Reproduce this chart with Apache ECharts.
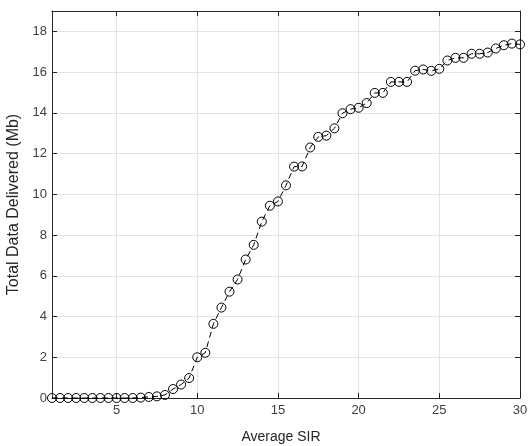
<!DOCTYPE html>
<html>
<head>
<meta charset="utf-8">
<script src="https://cdn.jsdelivr.net/npm/echarts@6/dist/echarts.min.js"></script>
<style>html,body{margin:0;padding:0;background:#fff}#c{width:530px;height:446px}</style>
</head>
<body>
<div id="c"></div>
<script>
const sir = [1,1.5,2,2.5,3,3.5,4,4.5,5,5.5,6,6.5,7,7.5,8,8.5,9,9.5,10,10.5,11,11.5,12,12.5,13,13.5,14,14.5,15,15.5,16,16.5,17,17.5,18,18.5,19,19.5,20,20.5,21,21.5,22,22.5,23,23.5,24,24.5,25,25.5,26,26.5,27,27.5,28,28.5,29,29.5,30];
const delivered = [0,0,0,0,0,0,0,0,0,0,0,0.02,0.05,0.08,0.15,0.44,0.66,0.98,2.0,2.22,3.64,4.44,5.22,5.82,6.8,7.52,8.66,9.44,9.65,10.44,11.36,11.37,12.3,12.82,12.88,13.24,13.98,14.18,14.25,14.48,14.98,14.98,15.52,15.52,15.52,16.07,16.13,16.06,16.16,16.57,16.7,16.7,16.9,16.9,16.96,17.16,17.32,17.4,17.36];
const xTicks = [5,10,15,20,25,30];
const yTicks = [0,2,4,6,8,10,12,14,16,18];
const xTitle = 'Average SIR';
const yTitle = 'Total Data Delivered (Mb)';

const axisColor = '#262626';
const labelColor = '#404040';
const gridColor = '#e3e3e3';
const font = 'Liberation Sans, Arial, Helvetica, sans-serif';

const chart = echarts.init(document.getElementById('c'), null, {renderer: 'canvas'});
const baseX = {
  type: 'value', min: 1, max: 30,
  axisLine: {show: true, onZero: false, lineStyle: {color: axisColor, width: 1}},
  axisTick: {show: true, inside: true, length: 5, customValues: xTicks, lineStyle: {color: axisColor}},
  axisLabel: {show: true, customValues: xTicks, color: labelColor, fontSize: 13, fontFamily: font, margin: 6},
  splitLine: {show: true, lineStyle: {color: gridColor, width: 1}}
};
const baseY = {
  type: 'value', min: 0, max: 19,
  axisLine: {show: true, onZero: false, lineStyle: {color: axisColor, width: 1}},
  axisTick: {show: true, inside: true, length: 5, customValues: yTicks, lineStyle: {color: axisColor}},
  axisLabel: {show: true, customValues: yTicks, color: labelColor, fontSize: 13, fontFamily: font, margin: 5},
  splitLine: {show: true, lineStyle: {color: gridColor, width: 1}}
};
chart.setOption({
  animation: false,
  backgroundColor: '#fff',
  grid: {left: 52, right: 10, top: 11, bottom: 48, containLabel: false, outerBoundsMode: 'none'},
  xAxis: [
    Object.assign({}, baseX, {position: 'bottom', name: xTitle, nameLocation: 'middle', nameGap: 32,
      nameTextStyle: {color: axisColor, fontSize: 14, fontFamily: font, padding: [0, 10, 0, 0]}}),
    Object.assign({}, baseX, {position: 'top', axisLabel: {show: false}, splitLine: {show: false}})
  ],
  yAxis: [
    Object.assign({}, baseY, {position: 'left', name: yTitle, nameLocation: 'middle', nameGap: 22,
      nameTextStyle: {color: axisColor, fontSize: 16, fontFamily: font}}),
    Object.assign({}, baseY, {position: 'right', axisLabel: {show: false}, splitLine: {show: false}})
  ],
  series: [{
    type: 'line',
    data: sir.map((x, i) => [x, delivered[i]]),
    symbol: 'circle', symbolSize: 9, showAllSymbol: true,
    lineStyle: {color: '#000', width: 1, type: [6, 4]},
    itemStyle: {color: 'rgba(0,0,0,0)', borderColor: '#000', borderWidth: 1},
    clip: false
  }]
});
</script>
</body>
</html>
